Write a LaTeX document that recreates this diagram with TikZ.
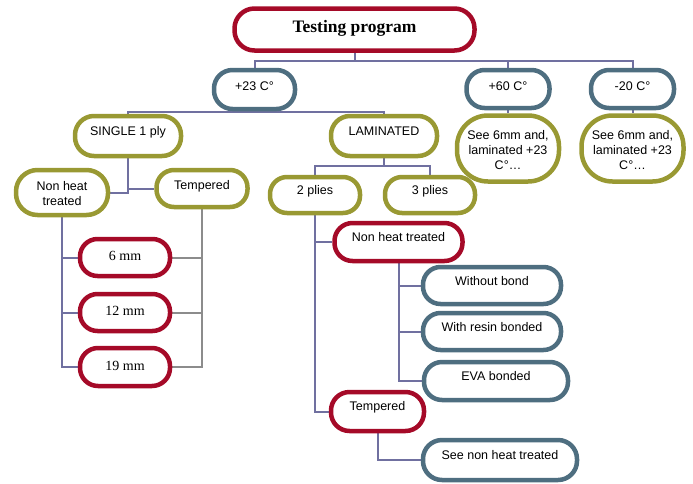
\documentclass[tikz,border=0pt]{standalone}
\usepackage{fontspec}
\setmainfont{Liberation Serif}
\setsansfont{Liberation Sans}
\usetikzlibrary{backgrounds}
\definecolor{cred}{RGB}{165,10,40}
\definecolor{cblue}{RGB}{78,110,128}
\definecolor{colive}{RGB}{153,153,51}
\definecolor{cconn}{RGB}{112,112,160}
\definecolor{cgray}{RGB}{140,140,140}
\tikzset{
  bx/.style={draw, line width=4.5pt, fill=white, inner sep=0pt},
  redbx/.style={bx, draw=cred},
  bluebx/.style={bx, draw=cblue},
  olbx/.style={bx, draw=colive},
  sans/.style={font=\sffamily\fontsize{12.5}{15}\selectfont, inner sep=0pt, text height=9pt, text depth=0pt},
  sansml/.style={font=\sffamily\fontsize{12.5}{15}\selectfont, inner sep=0pt, align=center},
  serif/.style={font=\rmfamily\fontsize{14}{16}\selectfont, inner sep=0pt, text height=6.5pt, text depth=0pt},
  conn/.style={draw=cconn, line width=2pt},
  gconn/.style={draw=cgray, line width=2pt}
}
\begin{document}
\begin{tikzpicture}[x=1pt,y=-1pt]
\useasboundingbox (0,0) rectangle (693,483);
% boxes
\node[redbx, minimum width=240pt, minimum height=42pt, rounded corners=20pt] (top) at (354.5,29.5) {};
\node[font=\rmfamily\bfseries\fontsize{17.5}{20}\selectfont, inner sep=0pt, text height=11.5pt, text depth=0pt] (topt) at (354.5,26.5) {Testing program};

\node[bluebx, minimum width=81pt, minimum height=39pt, rounded corners=18.5pt] (t23) at (254.5,89.5) {};
\node[sans] (t23t) at (254.5,86) {+23 C°};
\node[bluebx, minimum width=83pt, minimum height=38pt, rounded corners=18pt] (t60) at (508,89) {};
\node[sans] (t60t) at (508,85.5) {+60 C°};
\node[bluebx, minimum width=83pt, minimum height=38pt, rounded corners=18pt] (t20) at (632.5,89) {};
\node[sans] (t20t) at (632.5,85.5) {-20 C°};

\node[olbx, minimum width=102pt, minimum height=66pt, rounded corners=31pt] (see60) at (508,148.5) {};
\node[sansml] (see60t) at (508,150) {See 6mm and,\\laminated +23\\C°…};
\node[olbx, minimum width=102pt, minimum height=66pt, rounded corners=31pt] (see20) at (632.5,148.5) {};
\node[sansml] (see20t) at (632.5,150) {See 6mm and,\\laminated +23\\C°…};

\node[olbx, minimum width=106pt, minimum height=40pt, rounded corners=19pt] (single) at (128,136) {};
\node[sans] (singlet) at (128,131) {SINGLE 1 ply};
\node[olbx, minimum width=106pt, minimum height=40pt, rounded corners=19pt] (lam) at (384,136) {};
\node[sans] (lamt) at (384,131) {LAMINATED};

\node[olbx, minimum width=92pt, minimum height=45pt, rounded corners=21.5pt] (nht) at (62,192.5) {};
\node[sansml] (nhtt) at (62,193.5) {Non heat\\treated};
\node[olbx, minimum width=91pt, minimum height=37pt, rounded corners=17.5pt] (temp) at (202,188.5) {};
\node[sans] (tempt) at (202,185) {Tempered};

\node[redbx, minimum width=90pt, minimum height=37pt, rounded corners=17.5pt] (mm6) at (125,257.5) {};
\node[serif] (mm6t) at (125,257.5) {6 mm};
\node[redbx, minimum width=90pt, minimum height=37pt, rounded corners=17.5pt] (mm12) at (125,312.5) {};
\node[serif] (mm12t) at (125,312.5) {12 mm};
\node[redbx, minimum width=90pt, minimum height=38pt, rounded corners=18pt] (mm19) at (125,367) {};
\node[serif] (mm19t) at (125,367) {19 mm};

\node[olbx, minimum width=90pt, minimum height=36pt, rounded corners=17pt] (p2) at (315,195) {};
\node[sans] (p2t) at (315,190) {2 plies};
\node[olbx, minimum width=90pt, minimum height=36pt, rounded corners=17pt] (p3) at (430,195) {};
\node[sans] (p3t) at (430,190) {3 plies};

\node[redbx, minimum width=128pt, minimum height=38pt, rounded corners=18pt] (nht2) at (398.5,242) {};
\node[sans] (nht2t) at (398.5,237) {Non heat treated};
\node[bluebx, minimum width=138pt, minimum height=37pt, rounded corners=17.5pt] (wob) at (492,285.5) {};
\node[sans] (wobt) at (492,280.5) {Without bond};
\node[bluebx, minimum width=138pt, minimum height=37pt, rounded corners=17.5pt] (res) at (492,331.5) {};
\node[sans] (rest) at (492,326.5) {With resin bonded};
\node[bluebx, minimum width=144pt, minimum height=38pt, rounded corners=18pt] (eva) at (496,381) {};
\node[sans] (evat) at (496,376) {EVA bonded};
\node[redbx, minimum width=93pt, minimum height=39pt, rounded corners=18.5pt] (tmp2) at (377.5,411.5) {};
\node[sans] (tmp2t) at (377.5,406) {Tempered};
\node[bluebx, minimum width=154pt, minimum height=40pt, rounded corners=19pt] (seen) at (500,460) {};
\node[sans] (seent) at (500,455) {See non heat treated};

% connectors
\coordinate (j0) at (354.5,61);
\coordinate (j1) at (254.5,112);
\coordinate (j2) at (384,166);
\begin{scope}[on background layer]
\draw[conn] (top.south) -- (j0);
\draw[conn] (t23.north) -- (t23.north |- j0) -- (t20.north |- j0) -- (t20.north);
\draw[conn] (t60.north) -- (t60.north |- j0);
\draw[conn] (t23.south) -- (j1);
\draw[conn] (single.north) -- (single.north |- j1) -- (lam.north |- j1) -- (lam.north);
\draw[conn] (t60.south) -- (see60.north);
\draw[conn] (t20.south) -- (see20.north);
\draw[conn] (single.south) |- (nht.east);
\draw[conn] (single.south |- temp.west) -- (temp.west);
\draw[conn] (nht.south) |- (mm19.west);
\draw[conn] (nht.south |- mm6.west) -- (mm6.west);
\draw[conn] (nht.south |- mm12.west) -- (mm12.west);
\draw[gconn] (temp.south) |- (mm19.east);
\draw[gconn] (temp.south |- mm6.east) -- (mm6.east);
\draw[gconn] (temp.south |- mm12.east) -- (mm12.east);
\draw[conn] (lam.south) -- (j2);
\draw[conn] (p2.north) -- (p2.north |- j2) -- (p3.north |- j2) -- (p3.north);
\draw[conn] (p2.south) |- (tmp2.west);
\draw[conn] (p2.south |- nht2.west) -- (nht2.west);
\draw[conn] (nht2.south) |- (eva.west);
\draw[conn] (nht2.south |- wob.west) -- (wob.west);
\draw[conn] (nht2.south |- res.west) -- (res.west);
\draw[conn] (tmp2.south) |- (seen.west);
\end{scope}
\end{tikzpicture}
\end{document}
